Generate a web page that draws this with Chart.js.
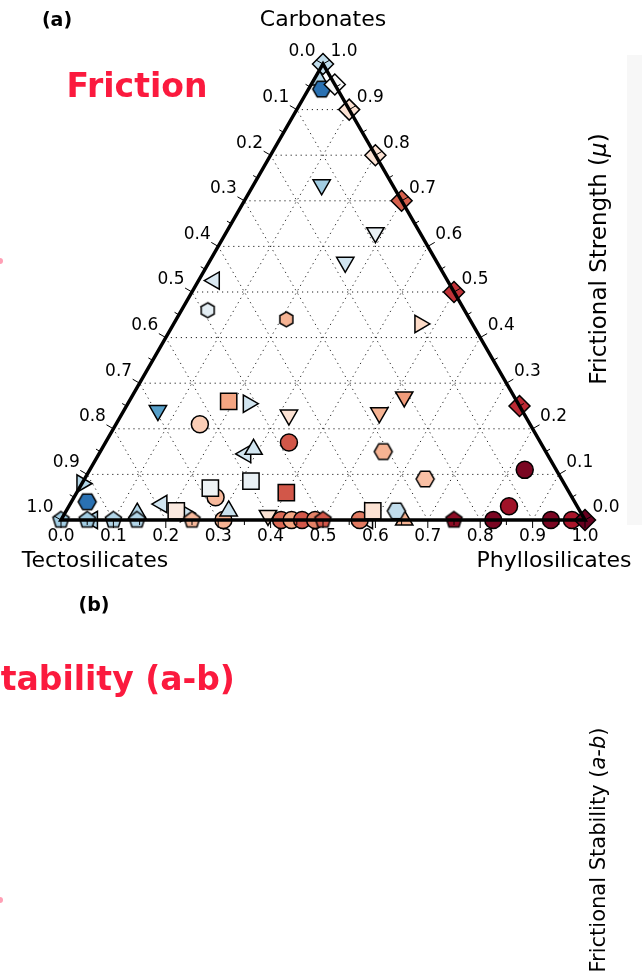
<!DOCTYPE html>
<html>
<head>
<meta charset="utf-8">
<script src="https://cdn.jsdelivr.net/npm/chart.js@4"></script>
<style>
  html, body { margin: 0; background: #fff; }
  #wrap { position: relative; width: 642px; height: 976px; overflow: hidden; font-family: "DejaVu Sans", sans-serif; color: #000; }
  #c { position: absolute; left: 0; top: 0; }
  .t { position: absolute; white-space: nowrap; transform: translate(-50%, -50%); line-height: 1; }
  .red { color: #fb1a3e; font-weight: bold; font-family: "Comic Sans MS", "DejaVu Sans", sans-serif; }
  .rot { transform: translate(-50%, -50%) rotate(-90deg); }
  .pink { position: absolute; left: 0; width: 3px; height: 6px; background: #ff9fb5; border-radius: 0 3px 3px 0; }
</style>
</head>
<body>
<div id="wrap">
  <div style="position:absolute;left:627px;top:55px;width:15px;height:470px;background:#f7f7f7"></div>
  <canvas id="c" width="642" height="976"></canvas>
  <div class="t" style="left:57px;top:19px;font-weight:bold;font-size:19px">(a)</div>
  <div class="t red" style="left:137px;top:85px;font-size:33px">Friction</div>
  <div class="t" style="left:94px;top:604px;font-weight:bold;font-size:19px">(b)</div>
  <div class="t red" style="left:-23px;top:678px;font-size:33px;transform:translate(0,-50%)">Stability (a-b)</div>
  <div class="t rot" style="left:598px;top:259px;font-size:23px">Frictional Strength (<i>μ</i>)</div>
  <div class="t rot" style="left:598px;top:850px;font-size:21px">Frictional Stability (<i>a-b</i>)</div>
  <div class="pink" style="top:258px"></div>
  <div class="pink" style="top:897px"></div>
</div>
<script>
// Composición ternaria de cada muestra: [carbonatos, filosilicatos, μ]
// (tectosilicatos = 1 - carbonatos - filosilicatos)
const CIRCLES = [
  [0.21, 0.16, 0.40], [0.17, 0.35, 0.25], [0.05, 0.27, 0.37], [0.00, 0.31, 0.36],
  [0.00, 0.42, 0.27], [0.00, 0.44, 0.34], [0.00, 0.46, 0.25], [0.00, 0.485, 0.30],
  [0.00, 0.57, 0.29], [0.11, 0.83, 0.12], [0.03, 0.84, 0.16], [0.00, 0.825, 0.12],
  [0.00, 0.935, 0.12], [0.00, 0.975, 0.17],
];
const SQUARES = [
  [0.26, 0.19, 0.34], [0.07, 0.25, 0.52], [0.085, 0.32, 0.53],
  [0.06, 0.40, 0.25], [0.02, 0.21, 0.46], [0.02, 0.585, 0.44],
];
const DIAMONDS = [
  [1.00, 0.00, 0.60], [0.955, 0.045, 0.50], [0.90, 0.10, 0.44], [0.80, 0.20, 0.44],
  [0.70, 0.30, 0.26], [0.50, 0.50, 0.21], [0.25, 0.75, 0.20], [0.00, 1.00, 0.10],
];
const TRI_DOWN = [
  [0.735, 0.13, 0.64], [0.63, 0.285, 0.53], [0.565, 0.26, 0.58], [0.27, 0.52, 0.33],
  [0.235, 0.49, 0.36], [0.23, 0.32, 0.44], [0.24, 0.065, 0.72], [0.01, 0.39, 0.44],
];
const TRI_UP = [
  [0.155, 0.29, 0.58], [0.02, 0.31, 0.59], [0.00, 0.655, 0.36],
  [0.965, 0.01, 0.62], [0.015, 0.138, 0.62],
];
const TRI_LEFT = [
  [0.525, 0.03, 0.56], [0.145, 0.28, 0.58], [0.035, 0.175, 0.58],
  [0.00, 0.06, 0.62], [0.00, 0.585, 0.50],
];
const TRI_RIGHT = [
  [0.255, 0.23, 0.58], [0.43, 0.47, 0.42], [0.08, 0.00, 0.62], [0.015, 0.23, 0.58],
];
const HEXAGONS = [
  [0.945, 0.025, 0.80], [0.15, 0.54, 0.36], [0.09, 0.65, 0.38],
  [0.04, 0.03, 0.80], [0.02, 0.63, 0.60],
];
const HEXAGONS_SMALL = [[0.46, 0.05, 0.54], [0.44, 0.21, 0.36]];
const PENTAGONS = [
  [0, 0.00, 0.64], [0, 0.05, 0.64], [0, 0.10, 0.62], [0, 0.145, 0.62],
  [0, 0.25, 0.37], [0, 0.50, 0.25], [0, 0.75, 0.14],
];

const TICKS = [0, 0.1, 0.2, 0.3, 0.4, 0.5, 0.6, 0.7, 0.8, 0.9, 1.0];
const MINOR = [0.05, 0.15, 0.25, 0.35, 0.45, 0.55, 0.65, 0.75, 0.85, 0.95];
const GRID = [0.1, 0.2, 0.3, 0.4, 0.5, 0.6, 0.7, 0.8, 0.9];
const MU_MIN = 0.1, MU_MAX = 0.9;

const RDBU = ['#67001f', '#b2182b', '#d6604d', '#f4a582', '#fddbc7', '#f7f7f7',
  '#d1e5f0', '#92c5de', '#4393c3', '#2166ac', '#053061'];
const hex2rgb = (h) => [1, 3, 5].map((i) => parseInt(h.slice(i, i + 2), 16));
function rdbu(mu) {
  const t = Math.min(1, Math.max(0, (mu - MU_MIN) / (MU_MAX - MU_MIN))) * (RDBU.length - 1);
  const i = Math.min(RDBU.length - 2, Math.floor(t)), f = t - i;
  const a = hex2rgb(RDBU[i]), b = hex2rgb(RDBU[i + 1]);
  return `rgb(${a.map((v, k) => Math.round(v + (b[k] - v) * f)).join(',')})`;
}

const H = Math.sqrt(3) / 2;
const toXY = (c, p) => ({ x: p + c / 2, y: c * H });

// polígonos que Chart.js no trae (pentágono, hexágono)
function polygon(sides, rot, r, fill) {
  const s = Math.ceil(2 * r + 4);
  const cv = document.createElement('canvas');
  cv.width = cv.height = s;
  const g = cv.getContext('2d');
  g.beginPath();
  for (let i = 0; i < sides; i++) {
    const a = rot + (i * 2 * Math.PI) / sides;
    const px = s / 2 + r * Math.sin(a), py = s / 2 - r * Math.cos(a);
    i ? g.lineTo(px, py) : g.moveTo(px, py);
  }
  g.closePath();
  g.fillStyle = fill; g.fill();
  g.lineWidth = 1.5; g.strokeStyle = '#000'; g.stroke();
  return cv;
}

function ds(rows, style, radius, rotation = 0) {
  const colors = rows.map((r) => rdbu(r[2]));
  return {
    data: rows.map(([c, p]) => toXY(c, p)),
    backgroundColor: colors,
    borderColor: '#000',
    borderWidth: 1.5,
    pointStyle: typeof style === 'function' ? colors.map(style) : style,
    pointRadius: radius,
    pointHoverRadius: radius,
    rotation,
    clip: false,
  };
}

const ternary = {
  id: 'ternary',
  beforeDatasetsDraw(chart) {
    const { ctx, scales: { x, y } } = chart;
    const pt = (c, p) => [x.getPixelForValue(p + c / 2), y.getPixelForValue(c * H)];
    const seg = (a, b) => { ctx.beginPath(); ctx.moveTo(...a); ctx.lineTo(...b); ctx.stroke(); };
    ctx.save();
    ctx.strokeStyle = '#222'; ctx.lineWidth = 1; ctx.setLineDash([1.2, 3.8]);
    GRID.forEach((f) => {
      seg(pt(f, 0), pt(f, 1 - f));
      seg(pt(0, f), pt(1 - f, f));
      seg(pt(0, 1 - f), pt(1 - f, 0));
    });
    ctx.restore();
  },
  afterDatasetsDraw(chart) {
    const { ctx, scales: { x, y } } = chart;
    const pt = (c, p) => [x.getPixelForValue(p + c / 2), y.getPixelForValue(c * H)];
    ctx.save();
    // triángulo
    ctx.strokeStyle = '#000'; ctx.lineWidth = 3.5; ctx.lineJoin = 'miter';
    ctx.beginPath();
    ctx.moveTo(...pt(0, 0)); ctx.lineTo(...pt(0, 1)); ctx.lineTo(...pt(1, 0)); ctx.closePath();
    ctx.stroke();

    // ejes: posición del valor, normal hacia fuera, desplazamiento de la etiqueta
    const axes = [
      { at: (v) => pt(0, v), n: [0, 1], lab: [0, 17] },               // filosilicatos
      { at: (v) => pt(1 - v, 0), n: [-0.866, -0.5], lab: [-21, -12] }, // tectosilicatos
      { at: (v) => pt(v, 1 - v), n: [0.866, -0.5], lab: [21, -12] },  // carbonatos
    ];
    ctx.lineWidth = 1;
    ctx.fillStyle = '#000';
    ctx.font = '17px "DejaVu Sans"';
    ctx.textAlign = 'center'; ctx.textBaseline = 'middle';
    axes.forEach((a) => {
      const tick = (v, len) => {
        const [px, py] = a.at(v);
        ctx.beginPath(); ctx.moveTo(px, py); ctx.lineTo(px + a.n[0] * len, py + a.n[1] * len); ctx.stroke();
      };
      TICKS.forEach((v) => {
        tick(v, 8);
        const [px, py] = a.at(v);
        ctx.fillText(v.toFixed(1), px + a.lab[0], py + a.lab[1]);
      });
      MINOR.forEach((v) => tick(v, 5));
    });

    ctx.font = '22px "DejaVu Sans"';
    const [ax, ay] = pt(1, 0), [lx, ly] = pt(0, 0), [rx, ry] = pt(0, 1);
    ctx.fillText('Carbonates', ax, ay - 44);
    ctx.fillText('Tectosilicates', lx + 34, ly + 41);
    ctx.fillText('Phyllosilicates', rx - 31, ry + 41);
    ctx.restore();
  },
};

new Chart(document.getElementById('c'), {
  type: 'scatter',
  data: {
    // el primero se dibuja encima
    datasets: [
      ds(DIAMONDS, 'rectRot', 10.5),
      ds(PENTAGONS, (col) => polygon(5, 0, 8.5, col), 8),
      ds(SQUARES, 'rect', 11.5),
      ds(HEXAGONS, (col) => polygon(6, Math.PI / 6, 9, col), 8),
      ds(HEXAGONS_SMALL, (col) => polygon(6, 0, 7.5, col), 7),
      ds(TRI_UP, 'triangle', 10, 0),
      ds(TRI_DOWN, 'triangle', 10, 180),
      ds(CIRCLES, 'circle', 8.5),
      ds(TRI_RIGHT, 'triangle', 10, 90),
      ds(TRI_LEFT, 'triangle', 10, 270),
    ],
  },
  options: {
    responsive: false,
    animation: false,
    devicePixelRatio: 1,
    layout: { padding: { left: 61, right: 57, top: 64, bottom: 456 } },
    plugins: { legend: { display: false }, tooltip: { enabled: false } },
    scales: {
      x: { type: 'linear', min: 0, max: 1, display: false },
      y: { type: 'linear', min: 0, max: H, display: false },
    },
  },
  plugins: [ternary],
});
</script>
</body>
</html>
